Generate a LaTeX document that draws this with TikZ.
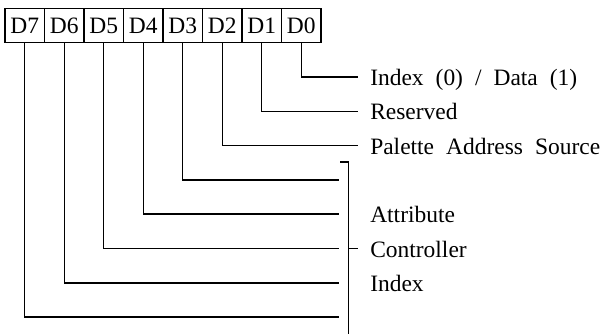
\documentclass[tikz,border=0pt]{standalone}
\usepackage{fontspec}
\setmainfont{Liberation Serif}
\newcommand\regfont{\fontsize{17.6}{20}\selectfont\spaceskip=9pt plus 2pt\relax}
\begin{document}
\begin{tikzpicture}[x=0.75pt,y=-0.75pt,
    bitbox/.style={draw,line width=0.9pt,minimum width=29.6pt,minimum height=25.5pt,inner sep=0pt,font=\regfont},
    lead/.style={line width=1.1pt},
    lbl/.style={anchor=west,inner sep=0pt,text height=14pt,text depth=1.2pt,font=\regfont}]
        \useasboundingbox (0,0) rectangle (613,333);
        \foreach \b [count=\i from 0] in {7,...,0} \node[bitbox] (d\b) at ({24.75+39.5*\i},25.5) {D\b};
        \foreach \b in {0,...,7} {
            \pgfmathsetmacro\ex{\b<3 ? 358 : 339}
            \coordinate (e\b) at (\ex,{77+34.3*\b});
            \draw[lead] (d\b) |- (e\b);
        }
        \node[lbl] (l0) at (370,77) {Index (0) / Data (1)};
        \node[lbl] (l1) at (370,111.3) {Reserved};
        \node[lbl] (l2) at (370,145.6) {Palette Address Source};
        \node[lbl] (l4) at (370,214.2) {Attribute};
        \node[lbl] (l5) at (370,248.5) {Controller};
        \node[lbl] (l6) at (370,282.8) {Index};
        \coordinate (brtop) at (340,162); \coordinate (brbot) at (348.5,340);
        \coordinate (brmid) at (348.5,248.5); \coordinate (brtick) at (358,248.5);
        \draw[lead] (brtop) -| (brbot); \draw[lead] (brmid) -- (brtick);
      \end{tikzpicture}
\end{document}
